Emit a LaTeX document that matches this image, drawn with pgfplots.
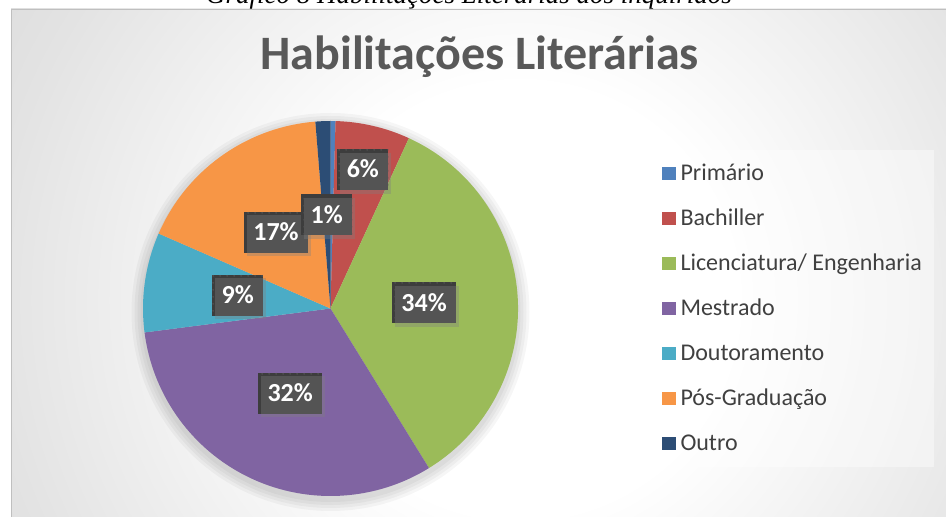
\documentclass[border=0pt]{standalone}
\usepackage{pgfplots}
\pgfplotsset{compat=1.18}
\usepackage{pgfplotstable}
\usepackage{fontspec}
\setmainfont{Carlito}
\newfontfamily\capfont{Liberation Serif}
\usetikzlibrary{shadows,patterns}
\definecolor{cPrim}{HTML}{4F81BD}
\definecolor{cBach}{HTML}{C0504D}
\definecolor{cLic}{HTML}{9BBB59}
\definecolor{cMest}{HTML}{8064A2}
\definecolor{cDout}{HTML}{4BACC6}
\definecolor{cPos}{HTML}{F79646}
\definecolor{cOut}{HTML}{2C4D75}
\definecolor{titlegray}{HTML}{595959}
\definecolor{legtext}{HTML}{404040}
\definecolor{lblfill}{HTML}{3D3D3D}
\definecolor{lbldot}{HTML}{545454}
\definecolor{bgedge}{HTML}{BDBDBD}
\definecolor{bgmid}{HTML}{C9C9C9}
\definecolor{bglight}{HTML}{E3E3E3}

\pgfdeclarepatternformonly{lbldots}{\pgfpointorigin}{\pgfpoint{7pt}{7pt}}{\pgfpoint{7pt}{7pt}}{%
  \pgfpathcircle{\pgfpoint{3.5pt}{3.5pt}}{1pt}\pgfusepath{fill}}

\pgfdeclareradialshading{bgshade}{\pgfpointorigin}{%
  color(0bp)=(white); color(9bp)=(white); color(22bp)=(bglight); color(38bp)=(bgmid); color(50bp)=(bgedge); color(72bp)=(bgedge)}

\pgfplotstableread{
level count colour labelr
Primario 1 cPrim 0
Bachiller 15 cBach 0.76
Licenciatura 80 cLic 0.5
Mestrado 74 cMest 0.5
Doutoramento 20 cDout 0.5
PosGraduacao 40 cPos 0.5
Outro 3 cOut 0.5
}\pietable

\pgfmathsetmacro\pietotal{0}
\pgfplotsforeachungrouped \i in {0,...,6}{%
  \pgfplotstablegetelem{\i}{count}\of\pietable
  \pgfmathsetmacro\pietotal{\pietotal+\pgfplotsretval}%
}
\def\piecum{0}
\pgfplotsforeachungrouped \i in {0,...,6}{%
  \pgfplotstablegetelem{\i}{count}\of\pietable
  \edef\piecnt{\pgfplotsretval}%
  \pgfmathsetmacro\pieA{90-360*(\piecum/\pietotal)}%
  \pgfmathsetmacro\piecum{\piecum+\piecnt}%
  \pgfmathsetmacro\pieB{90-360*(\piecum/\pietotal)}%
  \pgfmathsetmacro\pieM{(\pieA+\pieB)/2}%
  \pgfmathtruncatemacro\piePct{round(100*(\piecnt/\pietotal))}%
  \expandafter\xdef\csname sa\i\endcsname{\pieA}%
  \expandafter\xdef\csname sb\i\endcsname{\pieB}%
  \expandafter\xdef\csname sm\i\endcsname{\pieM}%
  \expandafter\xdef\csname pct\i\endcsname{\piePct}%
  \pgfplotstablegetelem{\i}{colour}\of\pietable
  \expandafter\xdef\csname slicecol\i\endcsname{\pgfplotsretval}%
  \pgfplotstablegetelem{\i}{labelr}\of\pietable
  \expandafter\xdef\csname lr\i\endcsname{\pgfplotsretval}%
}

\tikzset{lbl/.style={preaction={fill=lblfill}, pattern=lbldots, pattern color=lbldot,
  text=white, font=\fontsize{26}{30}\selectfont\bfseries,
  inner xsep=9.5pt, inner ysep=0pt, minimum height=41pt, text height=16.5pt, text depth=0pt,
  drop shadow={shadow xshift=3pt, shadow yshift=-3.5pt, opacity=0.35}}}

\begin{document}
\begin{tikzpicture}
\useasboundingbox (0pt,0pt) rectangle (946pt,517pt);
% background
\begin{scope}
\clip (11pt,0pt) rectangle (948pt,508pt);
\shade[shading=bgshade] (-80pt,-383pt) rectangle (1120pt,817pt);
\end{scope}
\draw[gray!50, line width=0.8pt] (11pt,0pt) -- (11pt,508pt) -- (948pt,508pt);
% caption (cut at the top, as in the source)
\node[anchor=base, inner sep=0pt, font=\capfont\itshape\fontsize{27}{32}\selectfont] at (469pt,513pt) {Gráfico 8 Habilitações Literárias dos inquiridos};
% title
\node[anchor=base, inner sep=0pt, text=titlegray, font=\fontsize{48}{56}\selectfont\bfseries] at (479.7pt,447pt) {Habilitações Literárias};
% legend panel
\fill[white, opacity=0.4] (649pt,50pt) rectangle (933.7pt,367pt);
% pie shadow
\foreach \r in {190,193,196,199}{\fill[black, opacity=0.035] (330.5pt,205pt) circle (\r pt);}
\begin{axis}[
  at={(330.5pt,208.5pt)}, anchor=center,
  hide axis, x=187.5pt, y=187.5pt,
  xmin=-1, xmax=1, ymin=-1, ymax=1,
  clip=false,
  legend entries={Primário, Bachiller, Licenciatura/ Engenharia, Mestrado, Doutoramento, Pós-Graduação, Outro},
  legend image code/.code={\fill[#1] (0pt,-7pt) rectangle (13.5pt,6pt);},
  legend style={
    at={(1.384,0.8813)}, anchor=north west,
    draw=none, fill=none, inner sep=0pt, outer sep=0pt,
    row sep=30pt, column sep=5pt,
    font=\fontsize{24}{28}\selectfont, text=legtext,
    cells={anchor=west},
    nodes={inner sep=0pt, text height=15pt, text depth=0pt},
  },
]
\pgfplotsforeachungrouped \i in {0,...,6}{%
  \edef\temp{\noexpand\addplot[fill=\csname slicecol\i\endcsname, draw=none]
     coordinates {(0,0)} -- (axis cs:{cos(\csname sa\i\endcsname)},{sin(\csname sa\i\endcsname)})
     arc[start angle=\csname sa\i\endcsname, end angle=\csname sb\i\endcsname, radius=187.5pt] -- cycle;}%
  \temp
}
\pgfplotsforeachungrouped \i in {1,...,6}{%
  \edef\temp{\noexpand\node[lbl] at (axis cs:{\csname lr\i\endcsname*cos(\csname sm\i\endcsname)},{\csname lr\i\endcsname*sin(\csname sm\i\endcsname)})
    {\csname pct\i\endcsname\noexpand\%};}%
  \temp
}
\end{axis}
\end{tikzpicture}
\end{document}
